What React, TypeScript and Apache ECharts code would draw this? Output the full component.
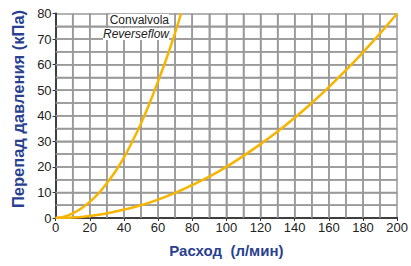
import React, { useEffect, useRef } from "react";
import * as echarts from "echarts";

const xTicks = [0, 20, 40, 60, 80, 100, 120, 140, 160, 180, 200];
const yTicks = [0, 10, 20, 30, 40, 50, 60, 70, 80];
const xGrid = [10, 20, 30, 40, 50, 60, 70, 80, 90, 100, 110, 120, 130, 140, 150, 160, 170, 180, 190];
const yGrid = [5, 10, 15, 20, 25, 30, 35, 40, 45, 50, 55, 60, 65, 70, 75];

// Reverseflow (steep) curve: flow (l/min) vs pressure drop (kPa)
const steepFlow = [0, 5, 10, 15, 20, 25, 30, 35, 40, 45, 50, 55, 60, 65, 70, 73.5];
const steepDp = [0, 0.5, 1.8, 3.7, 6.3, 9.5, 13.6, 18.2, 23.6, 30, 37, 44.8, 53.5, 62.5, 72.5, 80];

// Standard (shallow) curve
const shallowFlow = [0, 10, 20, 30, 40, 50, 60, 70, 80, 90, 100, 110, 120, 130, 140, 150, 160, 170, 180, 190, 200];
const shallowDp = [0, 0.2, 0.8, 1.8, 3.3, 5, 7.2, 9.8, 12.9, 16.2, 20, 24.3, 28.9, 33.8, 39.2, 45, 51.2, 57.8, 64.8, 72.2, 80];

const labelLines = ["Convalvola", "Reverseflow"];
const xTitle = "Расход  (л/мин)";
const yTitle = "Перепад давления (кПа)";

export default function App() {
  const ref = useRef<HTMLDivElement>(null);
  useEffect(() => {
    if (!ref.current) return;
    const chart = echarts.init(ref.current, null, { renderer: "svg" });
    const font = "Liberation Sans, Arial, sans-serif";
    const blue = "#2a3f8f";
    const gold = "#f7b500";
    const gridColor = "#999999";
    const xMin = xTicks[0];
    const xMax = xTicks[xTicks.length - 1];
    const yMin = yTicks[0];
    const yMax = yTicks[yTicks.length - 1];
    const frameAxis = {
      type: "value",
      axisLine: { show: true, lineStyle: { color: "#444", width: 1.5 } },
      axisTick: { show: false },
      axisLabel: { show: false },
      splitLine: { show: false },
    };
    const gridSeries = (pts: number[][]) => ({
      type: "line",
      data: pts,
      silent: true,
      showSymbol: false,
      symbol: "none",
      connectNulls: false,
      lineStyle: { color: gridColor, width: 1.5 },
      itemStyle: { color: gridColor },
      z: 1,
    });
    const vPts: any[] = [];
    xGrid.forEach((v) => {
      vPts.push([v, yMin], [v, yMax], [v, null]);
    });
    const hPts: any[] = [];
    yGrid.forEach((v) => {
      hPts.push([xMin, v], [xMax, v], [null, v]);
    });
    chart.setOption({
      animation: false,
      backgroundColor: "#ffffff",
      grid: {
        left: 55.6,
        right: 12.7,
        top: 13.5,
        bottom: 48,
      },
      xAxis: [
        {
          type: "value",
          position: "bottom",
          min: xMin,
          max: xMax,
          interval: 20,
          name: xTitle,
          nameLocation: "middle",
          nameGap: 25,
          nameTextStyle: { color: blue, fontSize: 15, fontWeight: "bold", fontFamily: font },
          axisLine: { show: true, onZero: false, lineStyle: { color: "#333", width: 2 } },
          axisTick: { show: true, length: 3, lineStyle: { color: "#333" } },
          axisLabel: { color: "#222", fontSize: 13, fontFamily: font, margin: 3 },
          splitLine: { show: true, lineStyle: { color: gridColor, width: 1.5 } },
          minorTick: { show: true, splitNumber: 2, length: 0 },
          minorSplitLine: { show: true, lineStyle: { color: gridColor, width: 1.5 } },
        },
        { ...frameAxis, position: "top", min: xMin, max: xMax, interval: 20 },
      ],
      yAxis: [
        {
          type: "value",
          position: "left",
          min: yMin,
          max: yMax,
          interval: 10,
          axisLine: { show: true, onZero: false, lineStyle: { color: "#333", width: 2 } },
          axisTick: { show: true, length: 3, lineStyle: { color: "#333" } },
          axisLabel: { color: "#222", fontSize: 13, fontFamily: font, margin: 4 },
          splitLine: { show: true, lineStyle: { color: gridColor, width: 1.5 } },
          minorTick: { show: true, splitNumber: 2, length: 0 },
          minorSplitLine: { show: true, lineStyle: { color: gridColor, width: 1.5 } },
        },
        { ...frameAxis, position: "right", min: yMin, max: yMax, interval: 10 },
      ],
      series: [
        gridSeries(vPts),
        gridSeries(hPts),
        {
          type: "line",
          data: steepFlow.map((x, i) => [x, steepDp[i]]),
          smooth: 0.3,
          showSymbol: false,
          lineStyle: { color: gold, width: 2.5 },
          z: 5,
        },
        {
          type: "line",
          data: shallowFlow.map((x, i) => [x, shallowDp[i]]),
          smooth: 0.3,
          showSymbol: false,
          lineStyle: { color: gold, width: 2.5 },
          z: 5,
        },
      ],
      graphic: [
        {
          type: "text",
          x: 18,
          y: 109,
          rotation: Math.PI / 2,
          style: {
            text: yTitle,
            font: "bold 16.5px " + font,
            fill: blue,
            align: "center",
            verticalAlign: "middle",
          },
          z: 10,
        },
        {
          type: "text",
          right: 411 - 169,
          top: 14,
          style: { text: labelLines[0], font: "12px " + font, fill: "#222", backgroundColor: "#fff" },
          z: 10,
        },
        {
          type: "text",
          right: 411 - 169,
          top: 28,
          style: { text: labelLines[1], font: "italic 12px " + font, fill: "#222", backgroundColor: "#fff" },
          z: 10,
        },
      ],
    });
    return () => chart.dispose();
  }, []);
  return <div ref={ref} style={{ width: 411, height: 266, position: "absolute", left: 0, top: 0 }} />;
}
